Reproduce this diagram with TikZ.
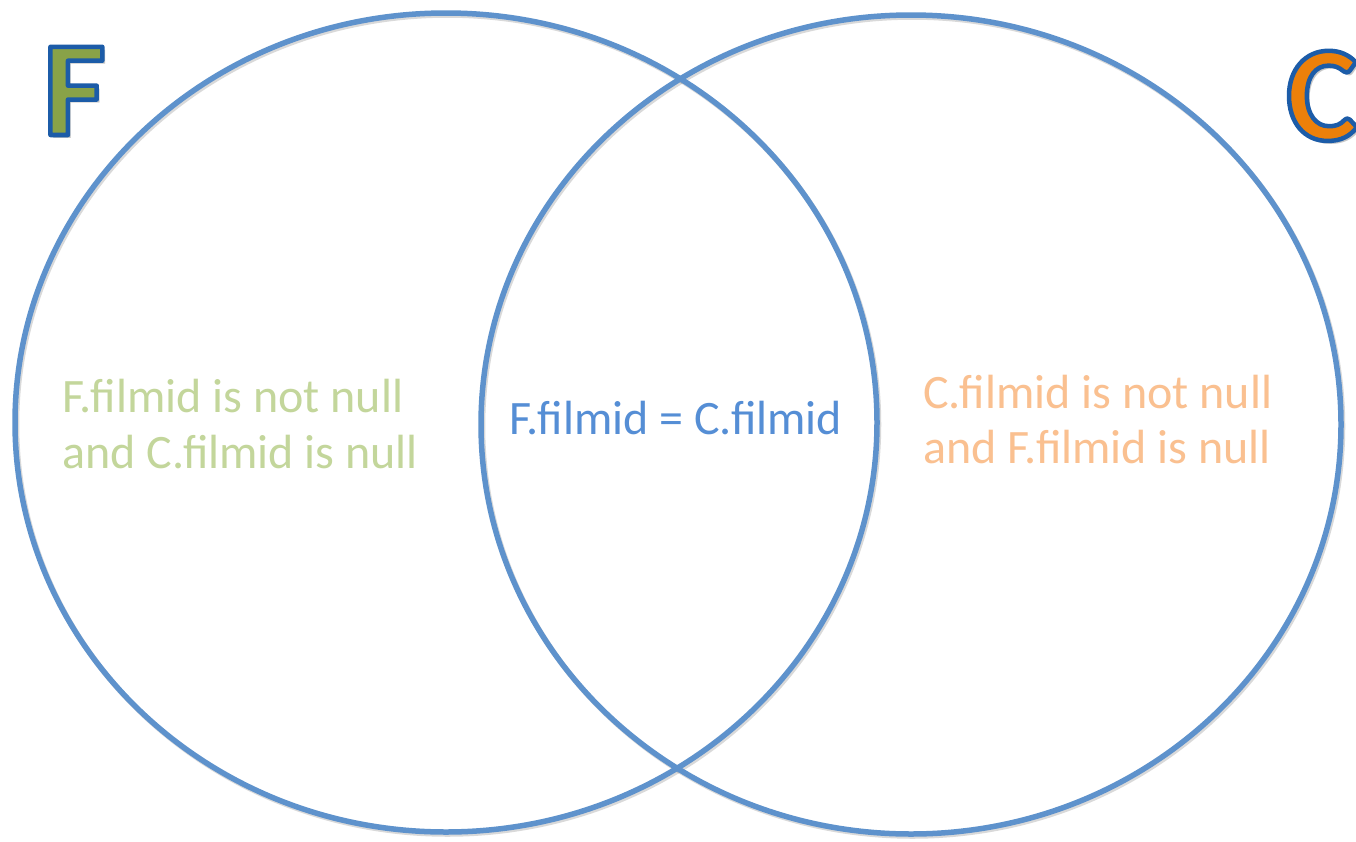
\documentclass[tikz,border=0pt]{standalone}
\usepackage{fontspec}
\setmainfont{Carlito}
\usetikzlibrary{calc}
\definecolor{ringc}{RGB}{94,146,204}
\definecolor{greentxt}{RGB}{195,214,155}
\definecolor{orangetxt}{RGB}{250,192,144}
\definecolor{bluetxt}{RGB}{85,142,213}
\definecolor{Ffill}{RGB}{137,162,72}
\definecolor{Cfill}{RGB}{236,128,10}
\newcommand\outlinedletter[2]{%
  \rlap{\kern3pt\raisebox{-3pt}{\textcolor{black!22}{#2}}}%
  \textcolor{#1}{\special{pdf:literal direct 0.11 0.36 0.66 RG 4.5 w 1 j 2 Tr}#2\special{pdf:literal direct 0 Tr}}}
\tikzset{
 ring/.style={draw=ringc, line width=5.5pt},
 ringshadow/.style={draw=black, line width=5.5pt, opacity=0.15},
 lbl/.style={inner sep=0pt, font=\fontsize{48}{56}\selectfont, anchor=base west},
 big/.style={inner sep=0pt, font=\fontsize{136}{136}\bfseries\selectfont, anchor=base west},
}
\begin{document}
\begin{tikzpicture}[x=1pt,y=-1pt]
\useasboundingbox (0,0) rectangle (1356,841);
\fill[white] (0,0) rectangle (1356,841);
% ring shadows
\draw[ringshadow] (447.5,424.5) ellipse [x radius=431, y radius=409.5];
\draw[ringshadow] (912.5,426.5) ellipse [x radius=430, y radius=409.5];
% rings
\draw[ring] (446,422.5) ellipse [x radius=431, y radius=409.5];
\draw[ring] (911,424.5) ellipse [x radius=430, y radius=409.5];
% labels
\node[lbl, text=greentxt] (l1) at (62,412) {F.filmid is not null};
\node[lbl, text=greentxt] (l2) at (62,468) {and C.filmid is null};
\node[lbl, text=bluetxt] (m1) at (509,434) {F.filmid = C.filmid};
\node[lbl, text=orangetxt] (r1) at (923,408) {C.filmid is not null};
\node[lbl, text=orangetxt] (r2) at (923,463) {and F.filmid is null};
% big letters
\node[big] (F) at (43,135) {\outlinedletter{Ffill}{F}};
\node[big] (C) at (1286,140) {\outlinedletter{Cfill}{C}};
\end{tikzpicture}
\end{document}
